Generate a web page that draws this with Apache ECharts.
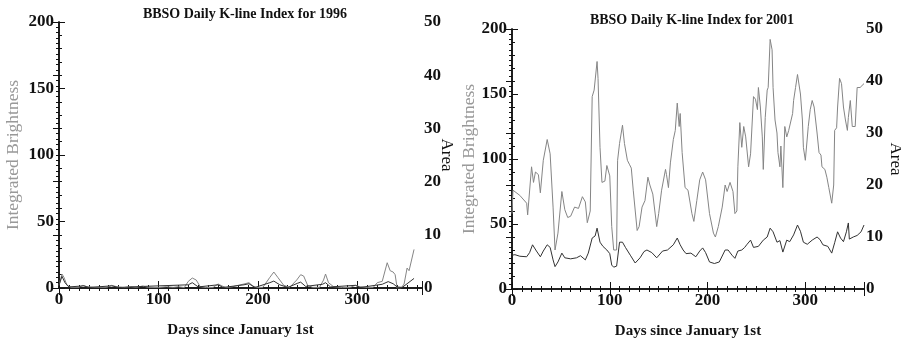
<!DOCTYPE html>
<html>
<head>
<meta charset="utf-8">
<script src="https://cdn.jsdelivr.net/npm/echarts@6/dist/echarts.min.js"></script>
<style>
  html, body { margin: 0; padding: 0; background: #fff; }
  #chart { width: 901px; height: 340px; }
</style>
</head>
<body>
<div id="chart"></div>
<script>
// [day, value] pairs
var brightness1996 = [[0,2],[1,5],[3,10.5],[5,8],[8,2],[12,0.5],[20,0.5],[24,2],[28,1],[35,0.5],[48,0.5],[53,2],[58,1],[65,0.3],[72,1],[78,0.5],[84,1.5],[90,0.5],[100,0.3],[108,1],[115,0.5],[120,1],[126,0.3],[130,5],[134,7.5],[138,6],[142,1],[148,0.3],[155,0.5],[160,3],[164,1.5],[168,0.3],[175,1],[180,2],[186,3],[191,4],[195,1.5],[199,0.3],[205,0.5],[212,8],[216,12],[220,8],[226,2],[232,0.5],[239,6],[243,10],[246,9],[250,2],[255,0.5],[262,0.5],[266,6],[268,10.5],[271,4],[276,1],[285,0.3],[293,0.5],[298,2],[302,1],[310,0.3],[316,0.5],[320,4],[325,5],[330,19],[333,13],[336,12],[338,10],[340,0],[344,0],[347,3],[350,15],[352,13],[357,29]];
var area1996 = [[0,0.5],[3,2.2],[6,1.0],[10,0.2],[25,0.4],[30,0.1],[53,0.4],[60,0.1],[85,0.3],[130,0.6],[134,1.0],[140,0.2],[160,0.6],[165,0.1],[186,0.6],[191,0.8],[197,0.1],[212,1.0],[216,1.3],[222,0.6],[230,0.1],[240,0.9],[243,1.1],[248,0.3],[265,0.7],[268,1.0],[273,0.2],[298,0.5],[303,0.1],[318,0.5],[325,0.7],[331,1.2],[336,0.8],[340,0.2],[345,0.1],[350,0.8],[357,1.8]];

var brightness2001 = [[0,58],[1,76],[8,72],[15,66],[16,57],[20,94],[22,82],[24,90],[27,88],[29,74],[32,99],[36,115],[37,114],[39,104],[42,63],[44,30],[47,43],[51,75],[54,61],[57,55],[60,56],[64,63],[68,62],[72,71],[75,67],[77,51],[80,60],[82,148],[84,153],[87,175],[88,162],[90,109],[92,82],[95,83],[97,95],[100,87],[102,48],[104,30],[107,30],[108,99],[110,112],[113,126],[115,112],[118,99],[120,96],[122,93],[124,76],[128,45],[130,48],[133,63],[136,68],[139,86],[141,80],[144,73],[148,48],[150,58],[153,76],[157,92],[158,88],[160,78],[162,97],[165,115],[167,122],[169,143],[171,125],[172,135],[174,105],[177,78],[180,76],[184,58],[186,52],[189,68],[192,84],[195,90],[198,84],[202,58],[206,43],[208,40],[211,48],[215,63],[218,80],[220,75],[223,82],[226,75],[228,58],[230,60],[231,94],[233,128],[235,109],[237,125],[239,117],[242,94],[244,104],[247,148],[249,146],[251,138],[252,155],[254,140],[256,117],[257,92],[259,132],[261,153],[262,155],[264,192],[266,184],[267,155],[269,130],[271,120],[272,105],[274,94],[275,110],[277,78],[279,125],[281,117],[283,122],[287,135],[288,145],[290,155],[292,165],[293,166],[295,150],[297,130],[298,109],[300,99],[303,125],[305,138],[307,145],[309,140],[312,120],[314,105],[316,103],[317,94],[320,92],[322,86],[324,78],[327,66],[329,80],[330,122],[332,124],[333,140],[335,162],[337,158],[339,140],[341,130],[343,122],[344,132],[346,145],[348,125],[351,125],[353,155],[356,155],[360,158]];
var area2001 = [[0,6.5],[3,6.6],[8,6.3],[15,6.2],[18,7.0],[21,8.5],[25,7.3],[29,6.2],[32,7.3],[36,8.5],[39,8.0],[42,5.6],[44,4.3],[47,5.2],[51,6.9],[54,6.0],[60,5.8],[66,6.0],[70,6.4],[75,5.6],[78,6.9],[82,9.8],[85,10.2],[87,11.7],[90,9.0],[93,8.2],[97,7.5],[100,6.8],[102,4.6],[104,4.2],[107,4.4],[110,9.0],[113,9.0],[116,8.0],[118,8.1],[121,6.5],[126,5.0],[128,4.7],[131,6.0],[135,7.2],[138,7.5],[143,7.0],[148,6.0],[154,7.3],[159,7.5],[165,8.5],[169,9.8],[172,8.5],[175,7.5],[178,6.8],[183,6.9],[188,6.2],[192,7.3],[195,7.9],[198,7.0],[202,5.2],[207,4.9],[212,5.2],[218,7.5],[221,7.5],[225,6.5],[228,5.9],[231,7.3],[235,7.5],[238,8.0],[240,8.5],[244,9.4],[247,8.0],[252,8.2],[257,9.4],[261,10.0],[264,11.7],[267,11.0],[271,9.0],[274,9.3],[277,7.1],[281,9.4],[284,9.1],[288,10.4],[292,12.3],[295,11.1],[298,9.0],[302,8.6],[307,9.4],[312,10.0],[315,9.5],[318,8.5],[323,8.2],[327,6.9],[330,8.9],[333,11.0],[336,9.8],[339,9.1],[342,11.0],[344,12.7],[345,9.6],[349,10.0],[353,10.3],[357,11.0],[360,12.3]];

var titles = ['BBSO Daily K-line Index for 1996', 'BBSO Daily K-line Index for 2001'];
var xMax = [365, 360];

var serif = 'Liberation Serif';
var axisLine = { show: true, lineStyle: { color: '#111', width: 1.5 } };
var labelStyle = { fontFamily: serif, fontWeight: 'bold', fontSize: 17, color: '#111' };

function xAxes(g) {
  var bottom = {
    gridIndex: g, type: 'value', min: 0, max: xMax[g], interval: 100,
    name: 'Days since January 1st', nameLocation: 'middle', nameGap: 35,
    nameTextStyle: { fontFamily: serif, fontWeight: 'bold', fontSize: 15, color: '#111' },
    axisLine: axisLine,
    axisTick: { inside: true, length: 7, lineStyle: { color: '#111' } },
    minorTick: { show: true, splitNumber: 10, length: 3, lineStyle: { color: '#111' } },
    axisLabel: Object.assign({ margin: 3, showMaxLabel: false }, labelStyle),
    splitLine: { show: false }
  };
  var top = {
    gridIndex: g, type: 'value', position: 'top', min: 0, max: xMax[g], interval: 100,
    axisLine: axisLine,
    axisTick: { inside: true, length: 7, lineStyle: { color: '#111' } },
    minorTick: { show: true, splitNumber: 10, length: 3, lineStyle: { color: '#111' } },
    axisLabel: { show: false },
    splitLine: { show: false }
  };
  return [bottom, top];
}

function yAxes(g, gaps) {
  var left = {
    gridIndex: g, type: 'value', min: 0, max: 200, interval: 50,
    name: 'Integrated Brightness', nameLocation: 'middle', nameGap: gaps[0],
    nameMoveOverlap: false,
    nameTextStyle: { fontFamily: serif, fontSize: 17.5, color: '#999' },
    axisLine: axisLine,
    axisTick: { inside: true, length: 6, lineStyle: { color: '#111' } },
    minorTick: { show: true, splitNumber: 5, length: 3, lineStyle: { color: '#111' } },
    axisLabel: Object.assign({ margin: 5 }, labelStyle),
    splitLine: { show: false }
  };
  var right = {
    gridIndex: g, type: 'value', position: 'right', min: 0, max: 50, interval: 10,
    name: 'Area', nameLocation: 'middle', nameGap: gaps[1], nameRotate: -90,
    nameMoveOverlap: false,
    nameTextStyle: { fontFamily: serif, fontSize: 17, color: '#111' },
    axisLine: axisLine,
    axisTick: { inside: true, length: 6, lineStyle: { color: '#111' } },
    minorTick: { show: true, splitNumber: 10, length: 3, lineStyle: { color: '#111' } },
    axisLabel: Object.assign({ margin: 2 }, labelStyle),
    splitLine: { show: false }
  };
  return [left, right];
}

function line(data, xi, yi, color) {
  return {
    type: 'line', data: data, xAxisIndex: xi, yAxisIndex: yi,
    showSymbol: false, animation: false,
    lineStyle: { color: color, width: 1 }
  };
}

var chart = echarts.init(document.getElementById('chart'));
chart.setOption({
  animation: false,
  backgroundColor: '#fff',
  title: [
    { text: titles[0], left: 240, top: 2, textAlign: 'center',
      textStyle: { fontFamily: serif, fontWeight: 'bold', fontSize: 14, color: '#111' } },
    { text: titles[1], left: 687, top: 8, textAlign: 'center',
      textStyle: { fontFamily: serif, fontWeight: 'bold', fontSize: 14, color: '#111' } }
  ],
  grid: [
    { left: 59, right: 479, top: 22, bottom: 52, containLabel: false, outerBoundsMode: 'none' },
    { left: 512, right: 37, top: 29, bottom: 51, containLabel: false, outerBoundsMode: 'none' }
  ],
  xAxis: xAxes(0).concat(xAxes(1)),
  yAxis: yAxes(0, [37, 16]).concat(yAxes(1, [34, 23])),
  series: [
    line(brightness1996, 0, 0, '#858585'),
    line(area1996, 0, 1, '#333'),
    line(brightness2001, 2, 2, '#858585'),
    line(area2001, 2, 3, '#333')
  ]
});
window.addEventListener('resize', function () { chart.resize(); });
</script>
</body>
</html>
